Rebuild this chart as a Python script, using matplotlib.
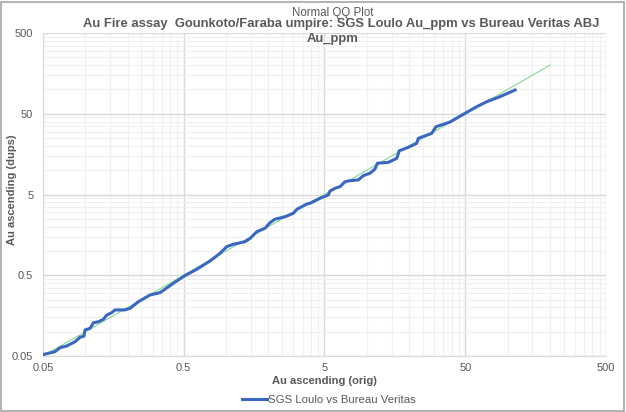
import matplotlib
matplotlib.use("Agg")
import matplotlib.pyplot as plt
from matplotlib.ticker import FixedLocator, FixedFormatter, NullFormatter
from matplotlib.patches import Rectangle
from matplotlib.lines import Line2D

plt.rcParams['font.family'] = ['Liberation Sans', 'DejaVu Sans']

# Data (sorted quantiles)
au_orig = [0.05, 0.0608, 0.066, 0.0737, 0.0844, 0.0916, 0.0978, 0.0994, 0.108, 0.114,
           0.124, 0.134, 0.142, 0.154, 0.162, 0.191, 0.208, 0.238, 0.288, 0.339,
           0.421, 0.505, 0.618, 0.768, 0.905, 1.01, 1.125, 1.36, 1.48, 1.65,
           1.89, 2.05, 2.22, 2.62, 3.0, 3.18, 3.74, 3.94, 4.65, 5.32,
           5.47, 5.94, 6.45, 7.0, 7.59, 8.69, 9.43, 10.5, 11.4, 11.9,
           14.2, 16.3, 17.0, 19.7, 22.6, 23.2, 28.9, 31.0, 34.9, 39.0,
           48.4, 60.3, 71.1, 88.3, 113.0]
au_dups = [0.052, 0.0566, 0.0634, 0.0665, 0.0752, 0.0852, 0.0884, 0.105, 0.110, 0.129,
           0.133, 0.142, 0.161, 0.172, 0.186, 0.186, 0.195, 0.235, 0.285, 0.304,
           0.397, 0.49, 0.593, 0.750, 0.935, 1.13, 1.21, 1.30, 1.43, 1.73,
           1.91, 2.24, 2.47, 2.65, 2.92, 3.28, 3.81, 3.89, 4.49, 4.93,
           5.52, 5.97, 6.25, 7.21, 7.42, 7.57, 8.55, 9.16, 10.3, 12.2,
           12.5, 14.0, 17.4, 19.2, 21.5, 24.8, 28.6, 34.6, 37.0, 39.5,
           49.2, 61.1, 70.5, 81.3, 98.4]
ref_line = [0.05, 200.0]

major_ticks = [0.05, 0.5, 5, 50, 500]
major_labels = ["0.05", "0.5", "5", "50", "500"]
minor_ticks = [m * k for m in [0.05, 0.5, 5, 50] for k in range(2, 10)]

TXT = '#595959'

fig = plt.figure(figsize=(6.26, 4.12), dpi=100)
ax = fig.add_axes([0.0687, 0.1359, 0.8993, 0.784])

ax.set_xscale('log')
ax.set_yscale('log')
ax.set_xlim(0.05, 500)
ax.set_ylim(0.05, 500)

for axis in (ax.xaxis, ax.yaxis):
    axis.set_major_locator(FixedLocator(major_ticks))
    axis.set_major_formatter(FixedFormatter(major_labels))
    axis.set_minor_locator(FixedLocator(minor_ticks))
    axis.set_minor_formatter(NullFormatter())

ax.grid(which='minor', color='#F0F0F0', linewidth=0.8)
ax.grid(which='major', color='#D9D9D9', linewidth=1.0)
ax.set_axisbelow(True)
ax.tick_params(which='both', length=0, labelsize=8, labelcolor=TXT)
ax.tick_params(axis='y', pad=7)
ax.tick_params(axis='x', pad=5)
for s in ['top', 'right']:
    ax.spines[s].set_visible(False)
for s in ['left', 'bottom']:
    ax.spines[s].set_color('#D9D9D9')

ax.plot(ref_line, ref_line, color='#8FDCA0', linewidth=0.9, zorder=2)
ax.plot(au_orig, au_dups, color='#3A67C0', linewidth=2.2, zorder=3,
        solid_joinstyle='round')

ax.set_xlabel("Au ascending (orig)", fontsize=8, fontweight='bold', color=TXT, labelpad=2)
fig.text(0.019, 0.539, "Au ascending (dups)", rotation=90, ha='center', va='center',
         fontsize=8, fontweight='bold', color=TXT)

fig.text(0.531, 0.968, "Normal QQ Plot", ha='center', va='center', fontsize=8.3,
         color=TXT)
fig.text(0.545, 0.942, "Au Fire assay  Gounkoto/Faraba umpire: SGS Loulo Au_ppm vs Bureau Veritas ABJ",
         ha='center', va='center', fontsize=9.4, fontweight='bold', color=TXT)
fig.text(0.531, 0.905, "Au_ppm", ha='center', va='center', fontsize=9.4,
         fontweight='bold', color=TXT)

handle = Line2D([], [], color='#3A67C0', linewidth=2.2)
fig.legend([handle], ["SGS Loulo vs Bureau Veritas"], loc='center',
           bbox_to_anchor=(0.525, 0.029), frameon=False, fontsize=8.2,
           handlelength=2.2, handletextpad=0.1, labelcolor=TXT)

fig.patches.append(Rectangle((0.002, 0.003), 0.995, 0.993, transform=fig.transFigure,
                             fill=False, edgecolor='#A6A6A6', linewidth=1.2))

fig.savefig("out.png", dpi=100)
